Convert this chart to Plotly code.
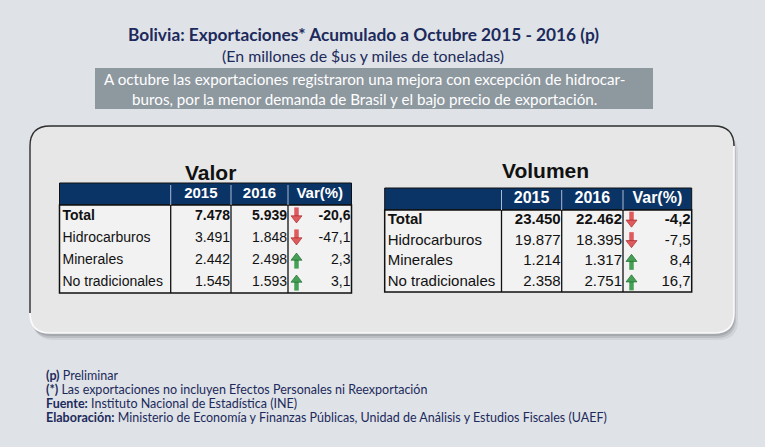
import plotly.graph_objects as go

# --- data -------------------------------------------------------------
categorias = ["Total", "Hidrocarburos", "Minerales", "No tradicionales"]
encabezados = ["2015", "2016", "Var(%)"]

# Valor (millones de $us)
valor_2015 = [7478, 3491, 2442, 1545]
valor_2016 = [5939, 1848, 2498, 1593]
valor_var = [-20.6, -47.1, 2.3, 3.1]

# Volumen (miles de toneladas)
volumen_2015 = [23450, 19877, 1214, 2358]
volumen_2016 = [22462, 18395, 1317, 2751]
volumen_var = [-4.2, -7.5, 8.4, 16.7]

titulo = "Bolivia: Exportaciones* Acumulado a Octubre 2015 - 2016 (p)"
subtitulo = "(En millones de $us y miles de toneladas)"
nota = ("A octubre las exportaciones registraron una mejora con excepción de hidrocar-<br>"
        "buros, por la menor demanda de Brasil y el bajo precio de exportación.")
pie = [
    ("(p)", "Preliminar"),
    ("(*)", "Las exportaciones no incluyen Efectos Personales ni Reexportación"),
    ("Fuente:", "Instituto Nacional de Estadística (INE)"),
    ("Elaboración:", "Ministerio de Economía y Finanzas Públicas, Unidad de Análisis y Estudios Fiscales (UAEF)"),
]

NAVY = "#0b3466"
TEXT_NAVY = "#1c2a5c"
BG = "#dfe2e6"
RED, RED_DK = "#df5a5c", "#a52a2c"
GREEN, GREEN_DK = "#45a055", "#1f6a2c"


def fmt_num(v):
    return f"{v:,}".replace(",", ".")


def fmt_var(v):
    return f"{v:.1f}".replace(".", ",")


def rrect(x0, y0, x1, y1, r):
    return (f"M{x0+r},{y0} L{x1-r},{y0} Q{x1},{y0} {x1},{y0+r} "
            f"L{x1},{y1-r} Q{x1},{y1} {x1-r},{y1} L{x0+r},{y1} "
            f"Q{x0},{y1} {x0},{y1-r} L{x0},{y0+r} Q{x0},{y0} {x0+r},{y0} Z")


fig = go.Figure()
shapes = []
annotations = []

# background panel: soft shadow, fill, dark top-left edge, light bottom-right edge
PX0, PY0, PX1, PY1, PR = 30, 126, 734, 333, 20
for dx, dy, op in [(1, 3, 0.35), (2, 5, 0.25), (4, 7, 0.15)]:
    shapes.append(dict(type="path", path=rrect(PX0 + dx, PY0 + dy, PX1 + dx, PY1 + dy, PR),
                       fillcolor="#7d8287", opacity=op, line=dict(width=0), layer="below"))
shapes.append(dict(type="path", path=rrect(PX0, PY0, PX1, PY1, PR),
                   fillcolor="#e7e7e7", line=dict(width=0), layer="below"))
shapes.append(dict(type="path", layer="below", line=dict(color="#2e2e2e", width=1.4),
                   path=(f"M{PX0},{PY1-PR} L{PX0},{PY0+PR} Q{PX0},{PY0} {PX0+PR},{PY0} "
                         f"L{PX1-PR},{PY0} Q{PX1},{PY0} {PX1},{PY0+PR}")))
shapes.append(dict(type="path", layer="below", line=dict(color="#fbfbfb", width=1.6),
                   path=(f"M{PX1},{PY0+PR} L{PX1},{PY1-PR} Q{PX1},{PY1} {PX1-PR},{PY1} "
                         f"L{PX0+PR},{PY1} Q{PX0},{PY1} {PX0},{PY1-PR}")))

# grey summary box
shapes.append(dict(type="rect", x0=95, x1=653, y0=68, y1=109,
                   fillcolor="#8e989f", line=dict(width=0), layer="below"))


def draw_table(nombre, cols, head, bottom, title_x, title_y, fsize, v15, v16, var):
    x0, x1 = cols[0], cols[-1]
    # header band and body
    shapes.append(dict(type="rect", x0=x0, x1=x1, y0=head[0], y1=head[1],
                       fillcolor=NAVY, line=dict(color="#111", width=1), layer="below"))
    shapes.append(dict(type="rect", x0=x0, x1=x1, y0=head[1], y1=bottom,
                       fillcolor="#f2f2f2", line=dict(color="#111", width=1.5), layer="below"))
    for cx in cols[1:-1]:
        shapes.append(dict(type="line", x0=cx, x1=cx, y0=head[0] + 2, y1=head[1],
                           line=dict(color="#a9bcd2", width=1), layer="below"))
        shapes.append(dict(type="line", x0=cx, x1=cx, y0=head[1], y1=bottom,
                           line=dict(color="#111", width=1.3), layer="below"))

    annotations.append(dict(x=title_x, y=title_y, text=f"<b>{nombre}</b>", showarrow=False,
                            font=dict(family="Liberation Sans", size=21, color="#111"),
                            xanchor="center", yanchor="middle"))

    # header labels
    fig.add_trace(go.Scatter(
        x=[(cols[i + 1] + cols[i + 2]) / 2 for i in range(3)],
        y=[(head[0] + head[1]) / 2] * 3,
        text=[f"<b>{h}</b>" for h in encabezados], mode="text",
        textfont=dict(family="Liberation Sans", size=fsize + 1, color="white"),
        textposition="middle center", hoverinfo="skip", showlegend=False))

    n = len(categorias)
    rh = (bottom - head[1]) / n
    ys = [head[1] + rh * (i + 0.5) for i in range(n)]

    def wrap(vals):
        return [f"<b>{t}</b>" if i == 0 else t for i, t in enumerate(vals)]

    font = dict(family="Liberation Sans", size=fsize, color="#111")
    fig.add_trace(go.Scatter(x=[x0 + 3] * n, y=ys, text=wrap(categorias), mode="text",
                             textposition="middle right", textfont=font,
                             hoverinfo="skip", showlegend=False))
    for ci, vals in [(2, [fmt_num(v) for v in v15]), (3, [fmt_num(v) for v in v16]),
                     (4, [fmt_var(v) for v in var])]:
        fig.add_trace(go.Scatter(x=[cols[ci] - 1] * n, y=ys, text=wrap(vals), mode="text",
                                 textposition="middle left", textfont=font,
                                 hoverinfo="skip", showlegend=False))

    # block arrows = stem (line-ns) + head (triangle), direction from the sign of var
    ax = [cols[3] + 8.5] * n
    down = [v < 0 for v in var]
    fill = [RED if d else GREEN for d in down]
    edge = [RED_DK if d else GREEN_DK for d in down]
    fig.add_trace(go.Scatter(
        x=ax, y=[y - 3 if d else y + 3 for y, d in zip(ys, down)], mode="markers",
        marker=dict(symbol="line-ns", size=8, line=dict(color=fill, width=4.5)),
        hoverinfo="skip", showlegend=False))
    fig.add_trace(go.Scatter(
        x=ax, y=[y + 2.2 if d else y - 2.2 for y, d in zip(ys, down)], mode="markers",
        marker=dict(symbol=["triangle-down" if d else "triangle-up" for d in down], size=9.5,
                    color=fill, line=dict(color=edge, width=0.7)),
        hoverinfo="skip", showlegend=False))


draw_table("Valor", [59.5, 170.7, 231, 288, 351.5], (183, 205), 293, 210, 172, 14,
           valor_2015, valor_2016, valor_var)
draw_table("Volumen", [384.7, 501.5, 561.7, 623, 691.7], (188, 210), 292, 545, 170, 15,
           volumen_2015, volumen_2016, volumen_var)

# titles
annotations.append(dict(x=363, y=34, text=f"<b>{titulo}</b>", showarrow=False,
                        font=dict(family="Lato", size=17.3, color=TEXT_NAVY),
                        xanchor="center", yanchor="middle"))
annotations.append(dict(x=363, y=55, text=subtitulo, showarrow=False,
                        font=dict(family="Lato", size=15.9, color=TEXT_NAVY),
                        xanchor="center", yanchor="middle"))
annotations.append(dict(x=364, y=89, text=nota, showarrow=False, align="center",
                        font=dict(family="Lato", size=15.2, color="white"),
                        xanchor="center", yanchor="middle"))

# footer notes
for i, (b, t) in enumerate(pie):
    annotations.append(dict(x=45, y=375 + i * 14, text=f"<b>{b}</b> {t}", showarrow=False,
                            font=dict(family="Lato", size=12.5, color=TEXT_NAVY),
                            height=14, borderpad=0,
                            xanchor="left", yanchor="middle", align="left"))

fig.update_layout(
    width=765, height=447, margin=dict(l=0, r=0, t=0, b=0),
    paper_bgcolor=BG, plot_bgcolor="rgba(0,0,0,0)",
    xaxis=dict(range=[0, 765], visible=False, fixedrange=True),
    yaxis=dict(range=[447, 0], visible=False, fixedrange=True),
    shapes=shapes, annotations=annotations,
)

fig.write_html("out.html", config={"displayModeBar": False},
               post_script=f"document.body.style.margin='0';document.body.style.background='{BG}';"
                           "document.body.style.overflow='hidden';")
